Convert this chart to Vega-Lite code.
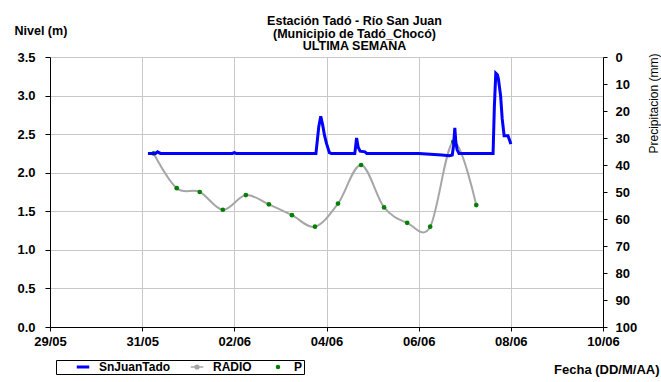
{
  "$schema": "https://vega.github.io/schema/vega-lite/v6.json",
  "width": 553,
  "height": 270,
  "autosize": "none",
  "padding": {"left": 50, "top": 57, "right": 58, "bottom": 55},
  "background": "white",
  "config": {
    "font": "Liberation Sans",
    "view": {"stroke": null},
    "legend": {"strokeColor": "#000000", "strokeWidth": 1, "fillColor": "#ffffff", "padding": 1},
    "axis": {"labelFont": "Liberation Sans", "labelFontWeight": "bold", "labelFontSize": 13, "labelColor": "#000", "titleFont": "Liberation Sans", "titleFontWeight": "bold", "titleFontSize": 13, "titleColor": "#000", "domainColor": "#000", "tickColor": "#000", "gridColor": "#c8c8c8", "gridWidth": 1}
  },
  "title": {
    "text": ["Estación Tadó - Río San Juan", "(Municipio de Tadó_Chocó)", "ULTIMA SEMANA"],
    "font": "Liberation Sans", "fontSize": 12.5, "fontWeight": "bold", "color": "#000",
    "anchor": "middle", "frame": "group", "offset": -29, "lineHeight": 12.8, "dx": 28
  },
  "datasets": {
    "nivel": [
      {"t": "2024-05-31T03:00", "v": 2.25, "serie": "SnJuanTado"},
      {"t": "2024-05-31T07:00", "v": 2.25, "serie": "SnJuanTado"},
      {"t": "2024-05-31T08:00", "v": 2.27, "serie": "SnJuanTado"},
      {"t": "2024-05-31T09:30", "v": 2.25, "serie": "SnJuanTado"},
      {"t": "2024-06-01T23:00", "v": 2.25, "serie": "SnJuanTado"},
      {"t": "2024-06-02T00:00", "v": 2.26, "serie": "SnJuanTado"},
      {"t": "2024-06-02T01:00", "v": 2.25, "serie": "SnJuanTado"},
      {"t": "2024-06-03T18:30", "v": 2.25, "serie": "SnJuanTado"},
      {"t": "2024-06-03T20:00", "v": 2.6, "serie": "SnJuanTado"},
      {"t": "2024-06-03T21:00", "v": 2.73, "serie": "SnJuanTado"},
      {"t": "2024-06-03T22:00", "v": 2.62, "serie": "SnJuanTado"},
      {"t": "2024-06-03T23:00", "v": 2.48, "serie": "SnJuanTado"},
      {"t": "2024-06-04T00:00", "v": 2.38, "serie": "SnJuanTado"},
      {"t": "2024-06-04T01:30", "v": 2.26, "serie": "SnJuanTado"},
      {"t": "2024-06-04T02:30", "v": 2.25, "serie": "SnJuanTado"},
      {"t": "2024-06-04T14:45", "v": 2.25, "serie": "SnJuanTado"},
      {"t": "2024-06-04T15:40", "v": 2.45, "serie": "SnJuanTado"},
      {"t": "2024-06-04T16:30", "v": 2.33, "serie": "SnJuanTado"},
      {"t": "2024-06-04T17:30", "v": 2.28, "serie": "SnJuanTado"},
      {"t": "2024-06-04T20:00", "v": 2.27, "serie": "SnJuanTado"},
      {"t": "2024-06-04T21:00", "v": 2.25, "serie": "SnJuanTado"},
      {"t": "2024-06-06T00:00", "v": 2.25, "serie": "SnJuanTado"},
      {"t": "2024-06-06T06:00", "v": 2.24, "serie": "SnJuanTado"},
      {"t": "2024-06-06T12:00", "v": 2.23, "serie": "SnJuanTado"},
      {"t": "2024-06-06T16:00", "v": 2.22, "serie": "SnJuanTado"},
      {"t": "2024-06-06T17:30", "v": 2.23, "serie": "SnJuanTado"},
      {"t": "2024-06-06T18:10", "v": 2.35, "serie": "SnJuanTado"},
      {"t": "2024-06-06T18:50", "v": 2.58, "serie": "SnJuanTado"},
      {"t": "2024-06-06T19:20", "v": 2.4, "serie": "SnJuanTado"},
      {"t": "2024-06-06T20:00", "v": 2.3, "serie": "SnJuanTado"},
      {"t": "2024-06-06T21:00", "v": 2.25, "serie": "SnJuanTado"},
      {"t": "2024-06-07T14:45", "v": 2.25, "serie": "SnJuanTado"},
      {"t": "2024-06-07T15:25", "v": 2.85, "serie": "SnJuanTado"},
      {"t": "2024-06-07T16:10", "v": 3.29, "serie": "SnJuanTado"},
      {"t": "2024-06-07T17:00", "v": 3.27, "serie": "SnJuanTado"},
      {"t": "2024-06-07T17:30", "v": 3.22, "serie": "SnJuanTado"},
      {"t": "2024-06-07T18:40", "v": 3.0, "serie": "SnJuanTado"},
      {"t": "2024-06-07T19:30", "v": 2.7, "serie": "SnJuanTado"},
      {"t": "2024-06-07T20:30", "v": 2.48, "serie": "SnJuanTado"},
      {"t": "2024-06-07T22:30", "v": 2.48, "serie": "SnJuanTado"},
      {"t": "2024-06-07T23:30", "v": 2.41, "serie": "SnJuanTado"},
      {"t": "2024-06-08T00:00", "v": 2.37, "serie": "SnJuanTado"}
    ],
    "radio": [
      {"t": "2024-05-31T06:00", "v": 2.25, "serie": "RADIO"},
      {"t": "2024-05-31T18:00", "v": 1.8, "serie": "RADIO"},
      {"t": "2024-06-01T06:00", "v": 1.75, "serie": "RADIO"},
      {"t": "2024-06-01T18:00", "v": 1.52, "serie": "RADIO"},
      {"t": "2024-06-02T06:00", "v": 1.71, "serie": "RADIO"},
      {"t": "2024-06-02T18:00", "v": 1.59, "serie": "RADIO"},
      {"t": "2024-06-03T06:00", "v": 1.45, "serie": "RADIO"},
      {"t": "2024-06-03T18:00", "v": 1.3, "serie": "RADIO"},
      {"t": "2024-06-04T06:00", "v": 1.6, "serie": "RADIO"},
      {"t": "2024-06-04T18:00", "v": 2.1, "serie": "RADIO"},
      {"t": "2024-06-05T06:00", "v": 1.55, "serie": "RADIO"},
      {"t": "2024-06-05T18:00", "v": 1.35, "serie": "RADIO"},
      {"t": "2024-06-06T06:00", "v": 1.3, "serie": "RADIO"},
      {"t": "2024-06-06T18:00", "v": 2.4, "serie": "RADIO"},
      {"t": "2024-06-07T06:00", "v": 1.58, "serie": "RADIO"}
    ],
    "precip": [
      {"t": "2024-06-01T00:00", "p": null, "serie": "P"}
    ]
  },
  "layer": [
    {
      "layer": [
        {
          "data": {"name": "radio"},
          "mark": {"type": "line", "interpolate": "cardinal", "strokeWidth": 2},
          "encoding": {
            "x": {
              "field": "t", "type": "temporal",
              "scale": {"domain": [{"year": 2024, "month": 5, "date": 29}, {"year": 2024, "month": 6, "date": 10}]},
              "axis": {
                "values": [
                  {"year": 2024, "month": 5, "date": 29}, {"year": 2024, "month": 5, "date": 31},
                  {"year": 2024, "month": 6, "date": 2}, {"year": 2024, "month": 6, "date": 4},
                  {"year": 2024, "month": 6, "date": 6}, {"year": 2024, "month": 6, "date": 8},
                  {"year": 2024, "month": 6, "date": 10}
                ],
                "format": "%d/%m", "title": "Fecha (DD/M/AA)", "tickSize": 4, "labelPadding": 4,
                "titleX": 609, "titleY": 42, "titleAlign": "right", "titleBaseline": "middle",
                "labelFlush": false, "labelOverlap": false
              }
            },
            "y": {
              "field": "v", "type": "quantitative",
              "scale": {"domain": [0, 3.5], "nice": false, "zero": true},
              "axis": {
                "values": [0, 0.5, 1, 1.5, 2, 2.5, 3, 3.5], "tickCount": 8, "format": ".1f", "labelOverlap": false,
                "title": "Nivel (m)", "titleFontSize": 12.5, "titleAngle": 0, "titleAlign": "left", "titleBaseline": "middle",
                "titleX": -36, "titleY": -27, "tickSize": 5, "labelPadding": 10, "labelFlush": false
              }
            },
            "color": {
              "field": "serie", "type": "nominal",
              "scale": {"domain": ["SnJuanTado", "RADIO", "P"], "range": ["#0000ff", "#a6a6a6", "#008000"]},
              "legend": {
                "title": null, "orient": "none", "legendX": 6, "legendY": 303, "direction": "horizontal",
                "padding": 1, "zindex": 5,
                "labelFont": "Liberation Sans", "labelFontWeight": "bold", "labelFontSize": 12, "labelColor": "#000",
                "symbolSize": 156, "symbolStrokeWidth": 0, "symbolOffset": 20, "columnPadding": -17, "labelOffset": 10,
                "encode": {
                  "labels": {
                    "update": {
                      "text": {"signal": "datum.label === 'P' ? 'P\u00a0\u00a0\u00a0\u00a0\u00a0\u00a0\u00a0\u00a0' : datum.label"}
                    }
                  },
                  "symbols": {
                    "update": {
                      "shape": {"signal": "datum.value === 'SnJuanTado' ? 'M-1,0H1' : (datum.value === 'RADIO' ? 'M-1,0H-0.3M0.3,0H1M0.3,0A0.3,0.3 0 1,1 -0.3,0A0.3,0.3 0 1,1 0.3,0Z' : 'circle')"},
                      "size": {"signal": "datum.value === 'P' ? 20 : 156"},
                      "strokeWidth": {"signal": "datum.value === 'SnJuanTado' ? 3 : (datum.value === 'RADIO' ? 1.5 : 0)"},
                      "stroke": {"signal": "datum.value === 'SnJuanTado' ? '#0000ff' : (datum.value === 'RADIO' ? '#a6a6a6' : 'transparent')"},
                      "fill": {"signal": "datum.value === 'SnJuanTado' ? 'transparent' : '#008000'"},
                      "opacity": {"value": 1}
                    }
                  }
                }
              }
            }
          }
        },
        {
          "data": {"name": "radio"},
          "mark": {"type": "point", "filled": true, "size": 22, "color": "#008000", "opacity": 1},
          "encoding": {
            "x": {"field": "t", "type": "temporal"},
            "y": {"field": "v", "type": "quantitative"}
          }
        },
        {
          "data": {"name": "nivel"},
          "mark": {"type": "line", "strokeWidth": 3, "interpolate": "linear"},
          "encoding": {
            "x": {"field": "t", "type": "temporal"},
            "y": {"field": "v", "type": "quantitative"},
            "color": {"field": "serie", "type": "nominal"}
          }
        }
      ]
    },
    {
      "data": {"name": "precip"},
      "mark": {"type": "point", "filled": true, "size": 20},
      "encoding": {
        "x": {"field": "t", "type": "temporal"},
        "y": {
          "field": "p", "type": "quantitative",
          "scale": {"domain": [0, 100], "reverse": true, "nice": false},
          "axis": {
            "orient": "right", "values": [0, 10, 20, 30, 40, 50, 60, 70, 80, 90, 100], "grid": false,
            "title": "Precipitacion (mm)", "titleFontWeight": "normal", "titleFontSize": 12,
            "titleAngle": 270, "titleAlign": "center", "titleBaseline": "middle",
            "titleX": 50, "titleY": 46, "tickSize": 4, "labelPadding": 8, "labelOverlap": false
          }
        },
        "color": {"field": "serie", "type": "nominal"}
      }
    }
  ],
  "resolve": {"scale": {"y": "independent"}}
}
